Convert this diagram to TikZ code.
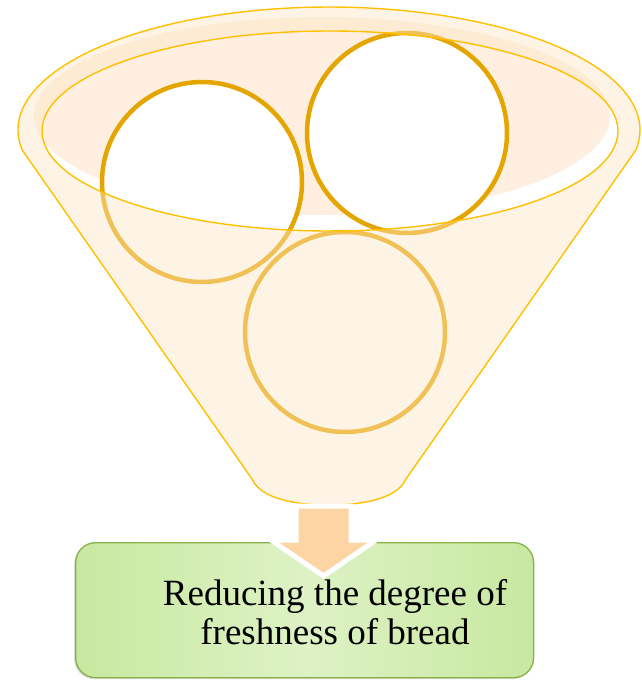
\documentclass[tikz,border=0pt]{standalone}
\usepackage{fontspec}
\setmainfont{Liberation Serif}
\usetikzlibrary{shadows}
\definecolor{Rim}{HTML}{FFC000}
\definecolor{Cream}{HTML}{FDE6C6}
\definecolor{Peach}{HTML}{FEEFE0}
\definecolor{Gold}{HTML}{E5A500}
\definecolor{Apricot}{HTML}{FDD5A5}
\definecolor{Leaf}{HTML}{C8E8A0}
\definecolor{LeafLight}{HTML}{DDF2C5}
\definecolor{Olive}{HTML}{8BB04A}

\begin{document}
\begin{tikzpicture}[x=1pt, y=-1pt,
    ball/.style={circle, draw=Gold, line width=4.5pt, fill=white, minimum size=200pt, inner sep=0pt}]
    \useasboundingbox (0,0) rectangle (642,680);
    % inside of the bowl
    \fill[Peach] (322,116) ellipse[x radius=288, y radius=99];
    \node[ball] (b1) at (202,182) {};
    \node[ball] (b2) at (407,133) {};
    \node[ball] (b3) at (345,332) {};
    % front face of the funnel and its rim
    \path[fill=Cream, fill opacity=0.44, draw=Rim, line width=1.4pt, even odd rule]
      (22.2,150.1) arc[start angle=170.6, end angle=369.4, x radius=311, y radius=123]
      -- (406,479) .. controls (397,499) and (362,505) .. (329,505)
      .. controls (296,505) and (261,499) .. (252,479) -- cycle
      (330,131) ellipse[x radius=288, y radius=100];
    % result
    \node[draw=Olive, line width=1.3pt, rounded corners=20pt, left color=Leaf, right color=Leaf, middle color=LeafLight,
      drop shadow={shadow xshift=-1.5pt, shadow yshift=-1.5pt, opacity=0.3},
      minimum width=458pt, minimum height=135pt, anchor=north west] (res) at (75,542) {};
    \draw[white, line width=5pt, fill=Apricot] (296,506) -- (351,506) -- (351,540) -- (376,540)
      -- (323.5,576) -- (271,540) -- (296,540) -- cycle;
    \node[font=\fontsize{37}{39}\selectfont, align=center, inner sep=0pt] (lbl) at (335,612)
      {Reducing the degree of\\freshness of bread};
\end{tikzpicture}
\end{document}
